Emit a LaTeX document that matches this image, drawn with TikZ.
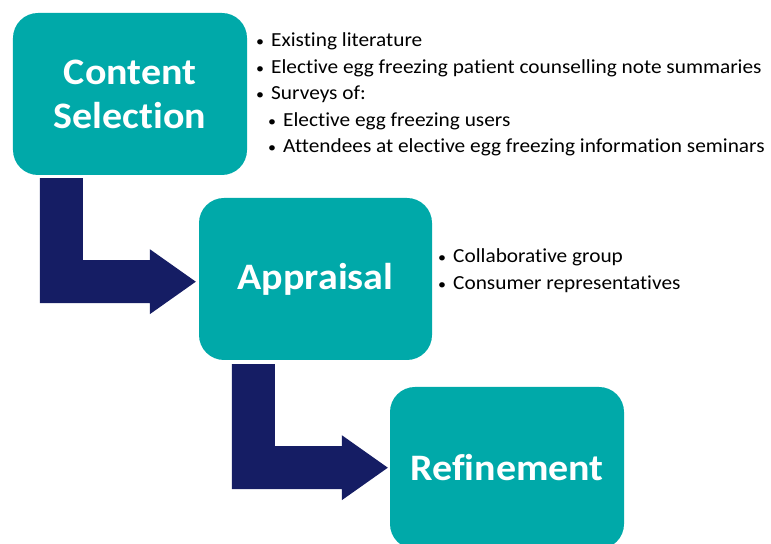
\documentclass[tikz,border=0pt]{standalone}
\usepackage{fontspec}
\setmainfont{Carlito}[Ligatures=NoCommon, FakeStretch=1.07]
\usetikzlibrary{calc}
\definecolor{tealbox}{RGB}{0,169,169}
\definecolor{navyarrow}{RGB}{21,29,100}
\tikzset{
  stage/.style={fill=tealbox, rounded corners=25bp, minimum width=234bp,
    minimum height=162bp, inner sep=0pt, text=white, align=center,
    font=\fontsize{37.5}{44}\selectfont\bfseries},
  item/.style={anchor=base west, inner sep=0pt, font=\fontsize{20}{24}\selectfont},
  bentarrow/.pic={
    \fill[navyarrow] (0,0) -- (43,0) -- (43,-82) -- (110,-82) -- (110,-71)
      -- (156,-103.5) -- (110,-136) -- (110,-125) -- (0,-125) -- cycle;
  }
}
% small bullet hung to the left of the item text
\newcommand{\bul}{\llap{\scalebox{0.75}{\textbullet}\hspace{7bp}}}
\begin{document}
\begin{tikzpicture}[x=1bp,y=1bp]
\useasboundingbox (0,0) rectangle (771,544);
\clip (0,0) rectangle (771,544);

% the three stages
\node[stage] (cs) at (130,450) {Content\\Selection};
\node[stage, minimum width=233bp] (ap) at (315.5,265) {Appraisal};
\node[stage] (rf) at (507,76) {Refinement};

% bent arrows leading from one stage to the next
\pic at ($(cs.south west)+(27,-3)$) {bentarrow};
\pic at ($(ap.south west)+(33,-4)$) {bentarrow};

% sources for content selection
\node[item] (s1) at (271,497) {\bul Existing literature};
\node[item] (s2) at (271,470) {\bul Elective egg freezing patient counselling note summaries};
\node[item] (s3) at (271,444) {\bul Surveys of:};
\node[item] (s4) at (283,417) {\bul Elective egg freezing users};
\node[item] (s5) at (283,391) {\bul Attendees at elective egg freezing information seminars};

% appraisal participants
\node[item] (a1) at (453,281) {\bul Collaborative group};
\node[item] (a2) at (453,254) {\bul Consumer representatives};
\end{tikzpicture}
\end{document}
